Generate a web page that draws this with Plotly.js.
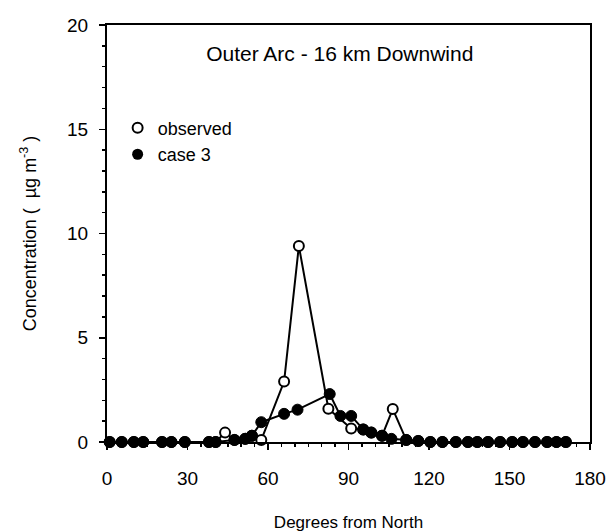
<!DOCTYPE html>
<html>
<head>
<meta charset="utf-8">
<script src="https://cdn.plot.ly/plotly-3.0.1.min.js"></script>
<style>html,body{margin:0;padding:0;background:#fff;}#chart{width:610px;height:532px;}</style>
</head>
<body>
<div id="chart"></div>
<script>
// Observed concentrations (µg m^-3) vs degrees from North
const obsDeg = [1, 5.5, 10, 13.5, 20.5, 24, 29, 38, 40.5, 44, 47.5, 51.5, 54, 57.5, 66, 71.5, 82.5, 91, 95.5, 98.5, 102.5, 106.5, 111.5, 116, 120.5, 125, 130, 134.5, 138, 142, 146.5, 151, 155, 159.5, 164, 167.5, 171];
const obsConc = [0, 0, 0, 0, 0, 0, 0, 0, 0, 0.45, 0.1, 0.15, 0.3, 0.1, 2.9, 9.4, 1.6, 0.65, 0.6, 0.45, 0.3, 1.58, 0.1, 0.05, 0, 0, 0, 0, 0, 0, 0, 0, 0, 0, 0, 0, 0];

// Model case 3
const caseDeg = [1, 5.5, 10, 13.5, 20.5, 24, 29, 38, 40.5, 47.5, 51.5, 54, 57.5, 66, 71, 83, 87, 91, 95.5, 98.5, 102.5, 106, 111.5, 116, 120.5, 125, 130, 134.5, 138, 142, 146.5, 151, 155, 159.5, 164, 167.5, 171];
const caseConc = [0, 0, 0, 0, 0, 0, 0, 0, 0, 0.1, 0.15, 0.3, 0.95, 1.35, 1.55, 2.3, 1.25, 1.25, 0.6, 0.45, 0.3, 0.15, 0.1, 0.05, 0, 0, 0, 0, 0, 0, 0, 0, 0, 0, 0, 0, 0];

const xTicks = [0, 30, 60, 90, 120, 150, 180];
const yTicks = [0, 5, 10, 15, 20];

const FONT = 'Arial, "Liberation Sans", Helvetica, sans-serif';

const traces = [
  {
    x: obsDeg, y: obsConc, type: 'scatter', mode: 'lines+markers', name: 'observed',
    showlegend: false, cliponaxis: false,
    line: {color: '#000', width: 2},
    marker: {symbol: 'circle', size: 10, color: '#fff', line: {color: '#000', width: 2}}
  },
  {
    x: caseDeg, y: caseConc, type: 'scatter', mode: 'lines+markers', name: 'case 3',
    showlegend: false, cliponaxis: false,
    line: {color: '#000', width: 2},
    marker: {symbol: 'circle', size: 11, color: '#000', line: {color: '#000', width: 1}}
  },
  {
    x: [null], y: [null], type: 'scatter', mode: 'markers', name: 'observed',
    marker: {symbol: 'circle', size: 10, color: '#fff', line: {color: '#000', width: 2}}
  },
  {
    x: [null], y: [null], type: 'scatter', mode: 'markers', name: 'case 3',
    marker: {symbol: 'circle', size: 11, color: '#000'}
  }
];

const layout = {
  width: 610, height: 532,
  margin: {l: 107, r: 20, t: 25, b: 90},
  paper_bgcolor: '#fff', plot_bgcolor: '#fff',
  font: {family: FONT, color: '#000', size: 17},
  title: {text: 'Outer Arc - 16 km Downwind', x: 0.557, y: 0.9, xanchor: 'center', yanchor: 'middle',
          font: {family: FONT, size: 21, color: '#000'}},
  showlegend: true,
  legend: {x: 0.022, y: 0.797, xanchor: 'left', yanchor: 'top', bgcolor: 'rgba(0,0,0,0)',
           font: {family: FONT, size: 18, color: '#000'}, tracegroupgap: 0, itemwidth: 30},
  xaxis: {
    range: [0, 180], tickvals: xTicks, ticktext: xTicks.map(String),
    ticks: 'outside', ticklen: 6, tickwidth: 1.5, tickcolor: '#000',
    minor: {dtick: 5, ticks: 'outside', ticklen: 3, tickwidth: 1.5, tickcolor: '#000', showgrid: false},
    showline: true, linecolor: '#000', linewidth: 2, mirror: true,
    showgrid: false, zeroline: false, ticklabelstandoff: 12,
    tickfont: {family: FONT, size: 19, color: '#000'},
    title: {text: 'Degrees from North', standoff: 28, font: {family: FONT, size: 17, color: '#000'}}
  },
  yaxis: {
    range: [0, 20], tickvals: yTicks, ticktext: yTicks.map(String),
    ticks: 'outside', ticklen: 6, tickwidth: 1.5, tickcolor: '#000',
    minor: {dtick: 1, ticks: 'outside', ticklen: 3, tickwidth: 1.5, tickcolor: '#000', showgrid: false},
    showline: true, linecolor: '#000', linewidth: 2, mirror: true,
    showgrid: false, zeroline: false, ticklabelstandoff: 7,
    tickfont: {family: FONT, size: 19, color: '#000'},
    title: {text: 'Concentration (  µg m<sup>-3</sup> )', standoff: 26, font: {family: FONT, size: 18, color: '#000'}}
  }
};

Plotly.newPlot('chart', traces, layout, {displayModeBar: false, staticPlot: true});
</script>
</body>
</html>
